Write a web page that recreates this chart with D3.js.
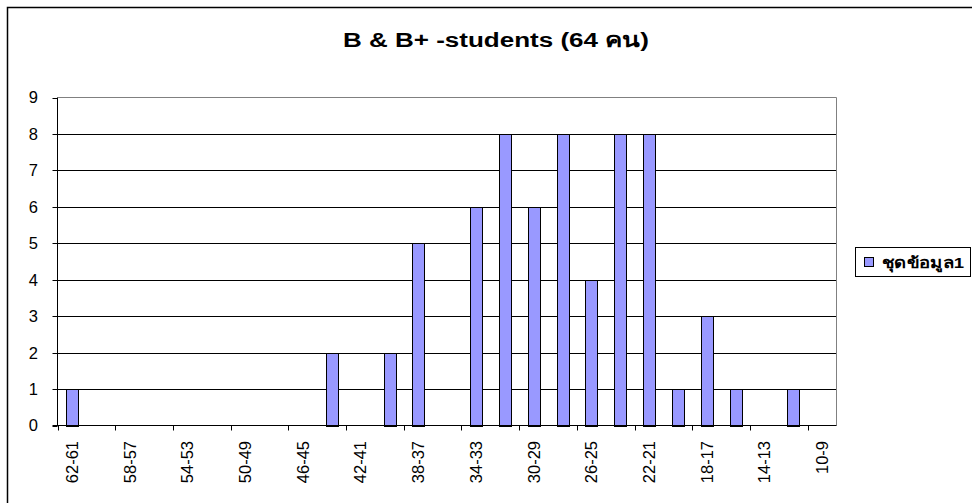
<!DOCTYPE html>
<html>
<head>
<meta charset="utf-8">
<script src="https://cdn.jsdelivr.net/npm/d3@7"></script>
<style>
  body { margin: 0; background: #fff; }
  svg { display: block; font-family: Arial, "Liberation Sans", sans-serif; }
</style>
</head>
<body>
<div id="chart"></div>
<script>
var width = 972,
    height = 503;

// score ranges (high to low) and number of students in each
var categories = ["62-61", "60-59", "58-57", "56-55", "54-53", "52-51", "50-49", "48-47", "46-45",
    "44-43", "42-41", "40-39", "38-37", "36-35", "34-33", "32-31", "30-29", "28-27", "26-25",
    "24-23", "22-21", "20-19", "18-17", "16-15", "14-13", "12-11", "10-9"];
var counts = [1, 0, 0, 0, 0, 0, 0, 0, 0,
    2, 0, 2, 5, 0, 6, 8, 6, 8, 4,
    8, 8, 1, 3, 1, 0, 1, 0];
var yTicks = [0, 1, 2, 3, 4, 5, 6, 7, 8, 9];
var title = "B & B+ -students (64 คน)";
var seriesName = "ชุดข้อมูล1";

var plot = { left: 57.5, right: 836.5, top: 97.5, bottom: 425.5 };

var svg = d3.select("#chart").append("svg")
    .attr("width", width)
    .attr("height", height);

// outer chart border (runs off the right and bottom edges)
svg.append("path")
    .attr("d", `M7.5,${height}V7.5H${width}`)
    .attr("fill", "none")
    .attr("stroke", "#000")
    .attr("stroke-width", 1.5);

var x = d3.scaleBand()
    .domain(categories)
    .range([plot.left, plot.right])
    .padding(0);

var y = d3.scaleLinear()
    .domain([0, 9])
    .range([plot.bottom, plot.top]);

// gridlines
svg.append("g")
    .selectAll("line")
    .data(yTicks.filter(d => d > 0 && d < 9))
    .join("line")
    .attr("x1", plot.left).attr("x2", plot.right)
    .attr("y1", d => Math.round(y(d)) + 0.5)
    .attr("y2", d => Math.round(y(d)) + 0.5)
    .attr("stroke", "#000");

// plot area border (top/right grey)
svg.append("path")
    .attr("d", `M${plot.left},${plot.top}H${plot.right}V${plot.bottom}`)
    .attr("fill", "none")
    .attr("stroke", "#808080");

// bars
var barW = x.bandwidth() * 0.4;
svg.append("g")
    .selectAll("rect")
    .data(categories.map((c, i) => ({ cat: c, value: counts[i] })).filter(d => d.value > 0))
    .join("rect")
    .attr("x", d => Math.round(x(d.cat) + (x.bandwidth() - barW) / 2) + 0.5)
    .attr("y", d => Math.round(y(d.value)) + 0.5)
    .attr("width", Math.round(barW))
    .attr("height", d => Math.round(y(0)) - Math.round(y(d.value)))
    .attr("fill", "#9999FF")
    .attr("stroke", "#000");

// y axis
var yAxis = svg.append("g");
yAxis.append("line")
    .attr("x1", plot.left).attr("x2", plot.left)
    .attr("y1", plot.top).attr("y2", plot.bottom)
    .attr("stroke", "#000");
yAxis.selectAll("line.tick")
    .data(yTicks)
    .join("line")
    .attr("class", "tick")
    .attr("x1", plot.left - 5).attr("x2", plot.left)
    .attr("y1", d => Math.round(y(d)) + 0.5)
    .attr("y2", d => Math.round(y(d)) + 0.5)
    .attr("stroke", "#000");
yAxis.selectAll("text")
    .data(yTicks)
    .join("text")
    .attr("x", 38)
    .attr("y", d => y(d))
    .attr("dy", "0.36em")
    .attr("text-anchor", "end")
    .attr("font-size", 16.5)
    .text(d => d);

// x axis
var xAxis = svg.append("g");
xAxis.append("line")
    .attr("x1", plot.left - 5).attr("x2", plot.right)
    .attr("y1", plot.bottom).attr("y2", plot.bottom)
    .attr("stroke", "#000");
var tickCats = categories.filter((c, i) => i % 2 === 0);
xAxis.selectAll("line.tick")
    .data(tickCats)
    .join("line")
    .attr("class", "tick")
    .attr("x1", d => Math.round(x(d)) + 0.5)
    .attr("x2", d => Math.round(x(d)) + 0.5)
    .attr("y1", plot.bottom)
    .attr("y2", plot.bottom + 5)
    .attr("stroke", "#000");
xAxis.selectAll("text")
    .data(tickCats)
    .join("text")
    .attr("transform", d => `translate(${x(d) + x.bandwidth() / 2},441) rotate(-90)`)
    .attr("dy", "0.36em")
    .attr("text-anchor", "end")
    .attr("font-size", 16.5)
    .text(d => d);

// title
svg.append("text")
    .attr("x", 496)
    .attr("y", 47)
    .attr("text-anchor", "middle")
    .attr("font-size", 20)
    .attr("font-weight", "bold")
    .attr("textLength", 306)
    .attr("lengthAdjust", "spacingAndGlyphs")
    .text(title);

// legend
var legend = svg.append("g");
legend.append("rect")
    .attr("x", 855.5).attr("y", 247.5)
    .attr("width", 115).attr("height", 29)
    .attr("fill", "#fff")
    .attr("stroke", "#000");
legend.append("rect")
    .attr("x", 864.5).attr("y", 257.5)
    .attr("width", 9).attr("height", 9)
    .attr("fill", "#9999FF")
    .attr("stroke", "#000");
legend.append("text")
    .attr("x", 882)
    .attr("y", 268)
    .attr("font-size", 15)
    .attr("font-weight", "bold")
    .attr("textLength", 82)
    .attr("lengthAdjust", "spacingAndGlyphs")
    .text(seriesName);
</script>
</body>
</html>
